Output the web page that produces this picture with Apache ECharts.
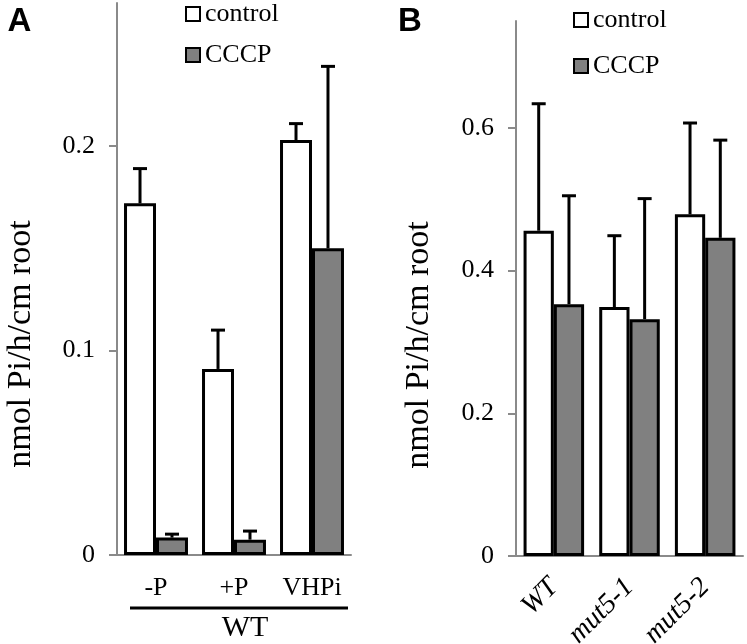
<!DOCTYPE html>
<html>
<head>
<meta charset="utf-8">
<script src="https://cdn.jsdelivr.net/npm/echarts@6/dist/echarts.min.js"></script>
<style>html,body{margin:0;padding:0;background:#fff}#c{width:747px;height:644px}</style>
</head>
<body>
<div id="c"></div>
<script>
// ---- data ----
const catsA = ['-P', '+P', 'VHPi'];
const ctrlA = [0.172, 0.091, 0.203];
const ctrlErrA = [0.017, 0.019, 0.008];
const cccpA = [0.0085, 0.0075, 0.150];
const cccpErrA = [0.0017, 0.0042, 0.089];
const ticksA = [0, 0.1, 0.2];

const catsB = ['WT', 'mut5-1', 'mut5-2'];
const ctrlB = [0.456, 0.349, 0.479];
const ctrlErrB = [0.178, 0.100, 0.128];
const cccpB = [0.353, 0.332, 0.446];
const cccpErrB = [0.152, 0.169, 0.137];
const ticksB = [0, 0.2, 0.4, 0.6];

const SERIF = '"Liberation Serif", "Times New Roman", serif';
const AXIS_GRAY = '#8a8a8a';
const BAR_FRAC_A = 0.41, BAR_FRAC_B = 0.40;

function errData(vals, errs, sign) {
  return vals.map((v, i) => [i, v, errs[i], sign]);
}
function errRender(frac) {
  return function (params, api) {
    const i = api.value(0), v = api.value(1), e = api.value(2), s = api.value(3);
    const band = api.size([1, 0])[0];
    const base = api.coord([i, v]);
    const x = base[0] + s * band * frac / 2;
    const y0 = base[1];
    const y1 = api.coord([i, v + e])[1];
    return {
      type: 'group',
      children: [
        { type: 'line', shape: { x1: x, y1: y0, x2: x, y2: y1 }, style: { stroke: '#000', lineWidth: 3 } },
        { type: 'line', shape: { x1: x - 7, y1: y1, x2: x + 7, y2: y1 }, style: { stroke: '#000', lineWidth: 3 } }
      ]
    };
  };
}

const yAxisCommon = (max, ticks) => ({
  type: 'value', min: 0, max: max,
  splitLine: { show: false },
  axisLine: { show: true, lineStyle: { color: AXIS_GRAY, width: 2 } },
  axisTick: { show: true, length: 8, lineStyle: { color: AXIS_GRAY, width: 2 }, customValues: ticks },
  axisLabel: { customValues: ticks, color: '#000', fontFamily: SERIF, fontSize: 26, margin: 22 }
});

const legendCommon = {
  data: ['control', 'CCCP'], orient: 'vertical', padding: 0,
  itemWidth: 14, itemHeight: 14, selectedMode: false, icon: 'rect',
  itemStyle: { borderColor: '#000', borderWidth: 2 },
  textStyle: { color: '#000', fontFamily: SERIF, fontSize: 26, lineHeight: 26 }
};

const chart = echarts.init(document.getElementById('c'), null, { renderer: 'canvas' });
chart.setOption({
  animation: false,
  backgroundColor: '#fff',
  grid: [
    { left: 117, top: 3, right: 396, bottom: 89, containLabel: false, outerBoundsMode: 'none' },
    { left: 516, top: 21, right: 4, bottom: 88, containLabel: false, outerBoundsMode: 'none' }
  ],
  xAxis: [
    {
      type: 'category', gridIndex: 0, data: catsA,
      axisLine: { lineStyle: { color: AXIS_GRAY, width: 2 } },
      axisTick: { show: false },
      axisLabel: { color: '#000', fontFamily: SERIF, fontSize: 26, margin: 20 }
    },
    {
      type: 'category', gridIndex: 1, data: catsB,
      axisLine: { lineStyle: { color: AXIS_GRAY, width: 2 } },
      axisTick: { show: false },
      axisLabel: { color: '#000', fontFamily: SERIF, fontSize: 28, fontStyle: 'italic', rotate: 45, margin: 27, interval: 0 }
    }
  ],
  yAxis: [
    Object.assign({ gridIndex: 0 }, yAxisCommon(0.27, ticksA)),
    Object.assign({ gridIndex: 1 }, yAxisCommon(0.75, ticksB))
  ],
  legend: [
    Object.assign({ left: 185, top: 1, itemGap: 15 }, legendCommon),
    Object.assign({ left: 573, top: 7, itemGap: 20 }, legendCommon)
  ],
  series: [
    { name: 'control', type: 'bar', xAxisIndex: 0, yAxisIndex: 0, data: ctrlA, barWidth: (BAR_FRAC_A * 100) + '%', barGap: '0%',
      itemStyle: { color: '#fff', borderColor: '#000', borderWidth: 3 } },
    { name: 'CCCP', type: 'bar', xAxisIndex: 0, yAxisIndex: 0, data: cccpA, barWidth: (BAR_FRAC_A * 100) + '%', barGap: '0%',
      itemStyle: { color: '#808080', borderColor: '#000', borderWidth: 3 } },
    { name: 'control', type: 'bar', xAxisIndex: 1, yAxisIndex: 1, data: ctrlB, barWidth: (BAR_FRAC_B * 100) + '%', barGap: '0%',
      itemStyle: { color: '#fff', borderColor: '#000', borderWidth: 3 } },
    { name: 'CCCP', type: 'bar', xAxisIndex: 1, yAxisIndex: 1, data: cccpB, barWidth: (BAR_FRAC_B * 100) + '%', barGap: '0%',
      itemStyle: { color: '#808080', borderColor: '#000', borderWidth: 3 } },
    { type: 'custom', xAxisIndex: 0, yAxisIndex: 0, data: errData(ctrlA, ctrlErrA, -1), renderItem: errRender(BAR_FRAC_A), z: 5 },
    { type: 'custom', xAxisIndex: 0, yAxisIndex: 0, data: errData(cccpA, cccpErrA, 1), renderItem: errRender(BAR_FRAC_A), z: 5 },
    { type: 'custom', xAxisIndex: 1, yAxisIndex: 1, data: errData(ctrlB, ctrlErrB, -1), renderItem: errRender(BAR_FRAC_B), z: 5 },
    { type: 'custom', xAxisIndex: 1, yAxisIndex: 1, data: errData(cccpB, cccpErrB, 1), renderItem: errRender(BAR_FRAC_B), z: 5 }
  ],
  graphic: [
    { type: 'text', x: 19.5, y: 22, style: { text: 'A', font: 'bold 33px "Liberation Sans", Arial, sans-serif', fill: '#000', align: 'center', verticalAlign: 'middle' } },
    { type: 'text', x: 410, y: 22, style: { text: 'B', font: 'bold 33px "Liberation Sans", Arial, sans-serif', fill: '#000', align: 'center', verticalAlign: 'middle' } },
    { type: 'line', shape: { x1: 130, y1: 608, x2: 348, y2: 608 }, style: { stroke: '#000', lineWidth: 3 } },
    { type: 'text', x: 245, y: 628, style: { text: 'WT', font: '30px ' + SERIF, fill: '#000', align: 'center', verticalAlign: 'middle' } },
    { type: 'text', x: 21, y: 344, rotation: Math.PI / 2, style: { text: 'nmol Pi/h/cm root', font: '34px ' + SERIF, fill: '#000', align: 'center', verticalAlign: 'middle' } },
    { type: 'text', x: 419, y: 345, rotation: Math.PI / 2, style: { text: 'nmol Pi/h/cm root', font: '34px ' + SERIF, fill: '#000', align: 'center', verticalAlign: 'middle' } }
  ]
});
</script>
</body>
</html>
